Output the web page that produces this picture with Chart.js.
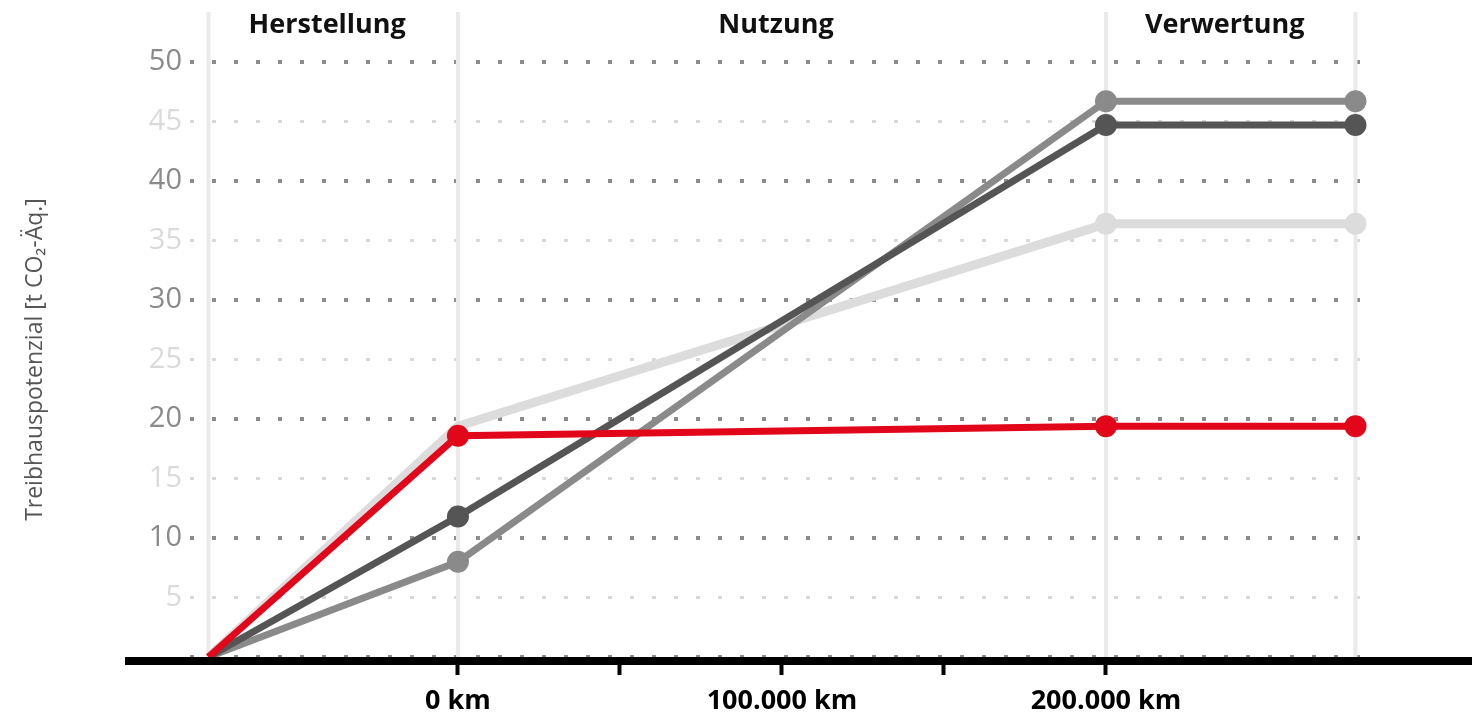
<!DOCTYPE html>
<html lang="de">
<head>
<meta charset="utf-8">
<title>Treibhauspotenzial</title>
<script src="https://cdn.jsdelivr.net/npm/chart.js@4.4.1/dist/chart.umd.min.js"></script>
<style>
  html, body { margin: 0; padding: 0; background: #fff; }
  canvas { display: block; }
</style>
</head>
<body>
<canvas id="ghgChart" width="1472" height="714"></canvas>
<script>
// phase boundaries in km (production / use / recycling)
const phaseBounds = [-77000, 0, 200000, 277000];
const phaseNames = ['Herstellung', 'Nutzung', 'Verwertung'];

// x ticks and their labels
const kmTicks = [0, 50000, 100000, 150000, 200000];
const kmLabels = ['0 km', '', '100.000 km', '', '200.000 km'];

// series values at the phase boundaries [t CO2-eq]
const seriesRed = [0, 18.6, 19.4, 19.4];
const seriesLight = [0, 19.4, 36.4, 36.4];
const seriesDark = [0, 11.8, 44.7, 44.7];
const seriesMedium = [0, 8.0, 46.7, 46.7];

Chart.defaults.font.family = "'Open Sans', 'Noto Sans', sans-serif";

const toPoints = (vals) => vals.map((v, i) => ({x: phaseBounds[i], y: v}));

const makeSet = (label, vals, color, width, radii) => ({
    label,
    data: toPoints(vals),
    borderColor: color,
    backgroundColor: color,
    borderWidth: width,
    pointRadius: radii || [0, 11, 11, 11],
    pointBorderWidth: 0,
    tension: 0,
    clip: false
});

const phasePlugin = {
    id: 'phases',
    beforeDatasetsDraw(chart) {
        const {ctx, chartArea, scales: {x}} = chart;
        ctx.save();
        ctx.strokeStyle = '#eaeaea';
        ctx.lineWidth = 4;
        for (const b of phaseBounds) {
            const px = x.getPixelForValue(b);
            ctx.beginPath();
            ctx.moveTo(px, 12);
            ctx.lineTo(px, chartArea.bottom);
            ctx.stroke();
        }
        ctx.fillStyle = '#111';
        ctx.font = "bold 27px 'Open Sans', sans-serif";
        ctx.textAlign = 'center';
        ctx.textBaseline = 'middle';
        phaseNames.forEach((name, i) => {
            const mid = (x.getPixelForValue(phaseBounds[i]) + x.getPixelForValue(phaseBounds[i + 1])) / 2;
            ctx.fillText(name, mid - 6, 25);
        });
        ctx.restore();
    },
    afterDatasetsDraw(chart) {
        const {ctx, chartArea} = chart;
        // thick black baseline
        ctx.save();
        ctx.strokeStyle = '#000';
        ctx.lineWidth = 8;
        ctx.beginPath();
        ctx.moveTo(125, chartArea.bottom + 4);
        ctx.lineTo(chart.width, chartArea.bottom + 4);
        ctx.stroke();
        ctx.restore();
    }
};

new Chart(document.getElementById('ghgChart'), {
    type: 'line',
    data: {
        datasets: [
            makeSet('Elektro, Ökostrom', seriesRed, '#e2061b', 7),
            makeSet('Diesel', seriesDark, '#555555', 7),
            makeSet('Benzin', seriesMedium, '#8a8a8a', 7),
            makeSet('Elektro, EU-Strommix', seriesLight, '#dcdcdc', 9, [0, 0, 11, 11])
        ]
    },
    options: {
        responsive: false,
        animation: false,
        layout: {padding: {top: 62, right: 112, left: 0, bottom: 0}},
        plugins: {
            legend: {display: false},
            tooltip: {enabled: false}
        },
        scales: {
            x: {
                type: 'linear',
                min: -82700,
                max: 278400,
                afterBuildTicks: (scale) => {
                    scale.ticks = kmTicks.map(v => ({value: v}));
                },
                afterFit: (scale) => { scale.height = 57; },
                grid: {
                    drawOnChartArea: false,
                    drawTicks: true,
                    tickLength: 18,
                    tickWidth: 4,
                    tickColor: '#000',
                    color: 'rgba(0,0,0,0)'
                },
                border: {display: false},
                ticks: {
                    autoSkip: false,
                    maxRotation: 0,
                    padding: 10,
                    color: '#000',
                    font: {size: 27, weight: 'bold'},
                    callback: (v) => {
                        const i = kmTicks.indexOf(v);
                        return i >= 0 ? kmLabels[i] : '';
                    }
                }
            },
            y: {
                min: 0,
                max: 50,
                afterFit: (scale) => { scale.width = 190; },
                grid: {
                    drawTicks: false,
                    color: (c) => c.tick.value % 10 === 0 ? '#8c8c8c' : '#d8d8d8',
                    lineWidth: (c) => c.tick.value % 10 === 0 ? 4 : 3,
                    borderDash: [4, 18]
                },
                border: {display: false, dash: [4, 18]},
                ticks: {
                    stepSize: 5,
                    padding: 8,
                    font: {size: 29},
                    color: (c) => c.tick.value % 10 === 0 ? '#8a8a8a' : '#dadada',
                    callback: (v) => v === 0 ? '' : v
                },
                title: {
                    display: true,
                    text: 'Treibhauspotenzial [t CO₂-Äq.]',
                    color: '#555',
                    font: {size: 23},
                    padding: {top: 22, bottom: 0}
                }
            }
        }
    },
    plugins: [phasePlugin]
});
</script>
</body>
</html>
